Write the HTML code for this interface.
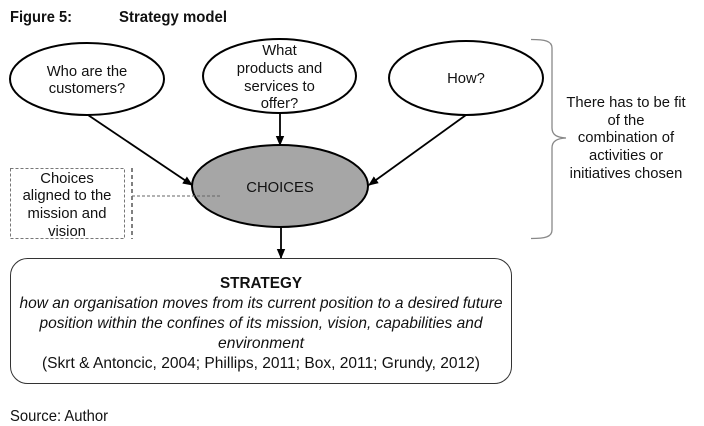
<!DOCTYPE html>
<html><head><meta charset="utf-8"><style>
html,body{margin:0;padding:0;background:#fff;}
svg{display:block;}
text{font-family:"Liberation Sans",Arial,sans-serif;fill:#111;}
</style></head><body>
<svg width="704" height="426" viewBox="0 0 704 426" xmlns="http://www.w3.org/2000/svg">
<defs>
<marker id="ah" markerWidth="10" markerHeight="10" refX="9" refY="5" orient="auto" markerUnits="userSpaceOnUse">
<path d="M0,0.8 L10,5 L0,9.2 Z" fill="#000"/>
</marker>
</defs>

<!-- Title -->
<text x="10" y="22" font-size="16" font-weight="bold" textLength="62" lengthAdjust="spacingAndGlyphs">Figure 5:</text>
<text x="119" y="22" font-size="16" font-weight="bold" textLength="108" lengthAdjust="spacingAndGlyphs">Strategy model</text>

<!-- Top ellipses -->
<ellipse cx="87" cy="79" rx="77" ry="36" fill="#fff" stroke="#000" stroke-width="2"/>
<text x="87" y="76" font-size="14.8" text-anchor="middle">Who are the</text>
<text x="87" y="93" font-size="14.8" text-anchor="middle">customers?</text>

<ellipse cx="279.5" cy="76" rx="76.5" ry="37" fill="#fff" stroke="#000" stroke-width="2"/>
<text x="279.5" y="55" font-size="14.8" text-anchor="middle">What</text>
<text x="279.5" y="73" font-size="14.8" text-anchor="middle">products and</text>
<text x="279.5" y="91" font-size="14.8" text-anchor="middle">services to</text>
<text x="279.5" y="108" font-size="14.8" text-anchor="middle">offer?</text>

<ellipse cx="466" cy="78" rx="77" ry="37" fill="#fff" stroke="#000" stroke-width="2"/>
<text x="466" y="83" font-size="14.8" text-anchor="middle">How?</text>

<!-- Arrows into CHOICES -->
<line x1="88" y1="115" x2="192" y2="185" stroke="#000" stroke-width="1.8" marker-end="url(#ah)"/>
<line x1="280" y1="113" x2="280" y2="145" stroke="#000" stroke-width="1.8" marker-end="url(#ah)"/>
<line x1="466" y1="115" x2="369" y2="185" stroke="#000" stroke-width="1.8" marker-end="url(#ah)"/>

<!-- CHOICES -->
<ellipse cx="280" cy="186" rx="88" ry="41" fill="#a6a6a6" stroke="#000" stroke-width="2"/>
<text x="280" y="192" font-size="14.8" text-anchor="middle">CHOICES</text>

<!-- Dashed box -->
<rect x="10.5" y="168.5" width="114" height="70" fill="none" stroke="#777" stroke-width="1" stroke-dasharray="3,2"/>
<line x1="132" y1="168" x2="132" y2="239" stroke="#000" stroke-width="1" stroke-dasharray="4,3"/>
<line x1="132" y1="196" x2="220" y2="196" stroke="#666" stroke-width="1" stroke-dasharray="3,2"/>
<text x="67" y="183" font-size="14.8" text-anchor="middle">Choices</text>
<text x="67" y="200" font-size="14.8" text-anchor="middle">aligned to the</text>
<text x="67" y="218" font-size="14.8" text-anchor="middle">mission and</text>
<text x="67" y="236" font-size="14.8" text-anchor="middle">vision</text>

<!-- Arrow down to strategy -->
<line x1="281" y1="227" x2="281" y2="258" stroke="#000" stroke-width="1.8" marker-end="url(#ah)"/>

<!-- Brace -->
<path d="M531,39.5 C545,39.5 552,41 552,48 L552,128 C552,135 557,137.5 566,138 C557,138.5 552,141 552,148 L552,230 C552,237 545,238.5 531,238.5" fill="none" stroke="#888" stroke-width="1.3"/>
<text x="626" y="107" font-size="14.8" text-anchor="middle">There has to be fit</text>
<text x="626" y="125" font-size="14.8" text-anchor="middle">of the</text>
<text x="626" y="142" font-size="14.8" text-anchor="middle">combination of</text>
<text x="626" y="160" font-size="14.8" text-anchor="middle">activities or</text>
<text x="626" y="178" font-size="14.8" text-anchor="middle">initiatives chosen</text>

<!-- Strategy box -->
<rect x="10.5" y="258.5" width="501" height="125" rx="17" ry="17" fill="#fff" stroke="#333" stroke-width="1"/>
<text x="261" y="288" font-size="15.6" font-weight="bold" text-anchor="middle" textLength="82" lengthAdjust="spacingAndGlyphs">STRATEGY</text>
<text x="261" y="308" font-size="15.6" font-style="italic" text-anchor="middle" textLength="483" lengthAdjust="spacingAndGlyphs">how an organisation moves from its current position to a desired future</text>
<text x="261" y="328" font-size="15.6" font-style="italic" text-anchor="middle" textLength="443" lengthAdjust="spacingAndGlyphs">position within the confines of its mission, vision, capabilities and</text>
<text x="261" y="348" font-size="15.6" font-style="italic" text-anchor="middle" textLength="86" lengthAdjust="spacingAndGlyphs">environment</text>
<text x="261" y="368" font-size="15.6" text-anchor="middle" textLength="438" lengthAdjust="spacingAndGlyphs">(Skrt &amp; Antoncic, 2004; Phillips, 2011; Box, 2011; Grundy, 2012)</text>

<!-- Source -->
<text x="10" y="421" font-size="16" textLength="98" lengthAdjust="spacingAndGlyphs">Source: Author</text>
</svg>
</body></html>
